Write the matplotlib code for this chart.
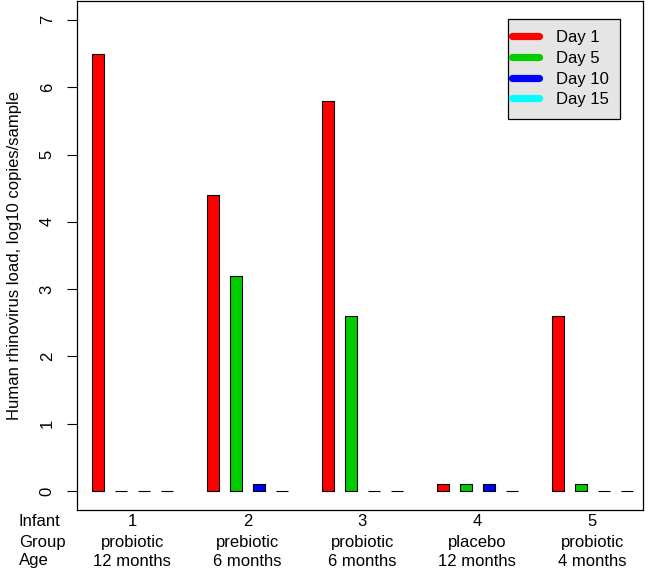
import numpy as np
import matplotlib
matplotlib.use("Agg")
import matplotlib.pyplot as plt
from matplotlib.lines import Line2D
from matplotlib.legend_handler import HandlerLine2D

plt.rcParams['font.family'] = ['Liberation Sans', 'DejaVu Sans']

# =========================================================
# DADOS
# =========================================================
infants = ['1', '2', '3', '4', '5']
groups = ['probiotic', 'prebiotic', 'probiotic', 'placebo', 'probiotic']
ages = ['12 months', '6 months', '6 months', '12 months', '4 months']
days = ['Day 1', 'Day 5', 'Day 10', 'Day 15']
day_colors = ['#FF0000', '#00CD00', '#0000FF', '#00FFFF']

# carga viral (log10 copias/amostra) por dia, uma lista por infante
day1 = [6.5, 4.4, 5.8, 0.1, 2.6]
day5 = [0.0, 3.2, 2.6, 0.1, 0.1]
day10 = [0.0, 0.1, 0.0, 0.1, 0.0]
day15 = [0.0, 0.0, 0.0, 0.0, 0.0]
series = [day1, day5, day10, day15]


# linha da legenda deslocada para a esquerda (como no R)
class ShiftedLine(HandlerLine2D):
    def create_artists(self, legend, orig_handle, xdescent, ydescent,
                       width, height, fontsize, trans):
        arts = super().create_artists(legend, orig_handle, xdescent, ydescent,
                                      width, height, fontsize, trans)
        for a in arts:
            a.set_xdata(np.asarray(a.get_xdata(), float) - 5.1)
        return arts


# =========================================================
# GRAFICO
# =========================================================
fig = plt.figure(figsize=(6.48, 5.71), dpi=100)
W, H = 648, 571
ax = fig.add_axes([77 / W, 1 - 510 / H, (643 - 77) / W, (510 - 1) / H])

group_pos = np.arange(len(infants)) * 5
for d, vals in enumerate(series):
    ax.bar(group_pos + d, vals, width=0.52, color=day_colors[d],
           edgecolor='black', linewidth=0.8, zorder=2)

ax.set_xlim(-0.91, 23.7)
ax.set_ylim(-0.28, 7.28)
ax.set_yticks(range(0, 8))
ax.set_xticks([])
ax.tick_params(axis='y', length=7, width=0.8, labelsize=12, pad=9,
               labelrotation=90)
for lbl in ax.get_yticklabels():
    lbl.set_va('center')
for s in ax.spines.values():
    s.set_linewidth(0.9)

ax.set_ylabel('Human rhinovirus load, log10 copies/sample', fontsize=12,
              labelpad=13)

# rotulos abaixo do eixo
rows_y = [521, 542, 561]
row_names = ['Infant', 'Group', 'Age']
for name, yy in zip(row_names, rows_y):
    fig.text(19 / W, 1 - yy / H, name, fontsize=12, ha='left', va='center')

trans = matplotlib.transforms.blended_transform_factory(ax.transData, fig.transFigure)
for i in range(len(infants)):
    cx = group_pos[i] + 1.5
    for txt, yy in zip([infants[i], groups[i], ages[i]], rows_y):
        ax.text(cx, 1 - yy / H, txt, transform=trans, fontsize=12,
                ha='center', va='center', clip_on=False)

# legenda
handles = [Line2D([0], [0], color=c, lw=5.2, solid_capstyle='round')
           for c in day_colors]
leg = ax.legend(handles, days, loc='upper right',
                bbox_to_anchor=((620 - 77) / (643 - 77), 1 - (19 - 1) / (510 - 1)),
                borderaxespad=0, fontsize=12, fancybox=False, framealpha=1,
                facecolor='#E5E5E5', edgecolor='black', handlelength=1.6,
                handletextpad=0.6, labelspacing=0.34, borderpad=0.68,
                handler_map={Line2D: ShiftedLine()})
leg.get_frame().set_linewidth(0.9)

fig.savefig('out.png', dpi=100)
